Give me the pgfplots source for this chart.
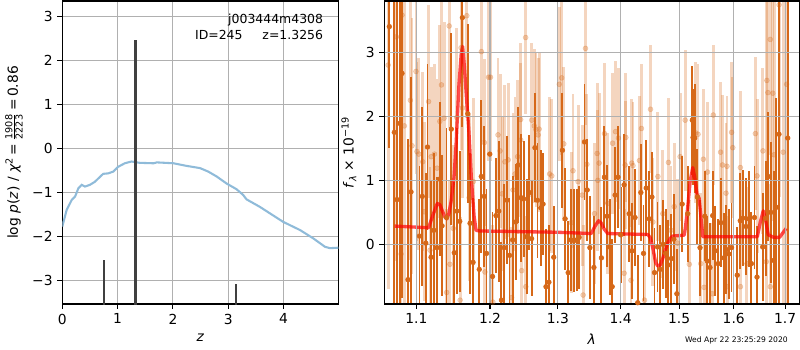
\documentclass[border=0pt]{standalone}
\usepackage{fontspec}
\setmainfont{DejaVu Sans}
\usepackage{amsmath}
\usepackage{pgfplots}
\pgfplotsset{compat=1.18}
\usepackage{pgfplotstable}

\definecolor{mplgrid}{RGB}{176,176,176}
\definecolor{pzblue}{RGB}{143,187,217}
\definecolor{ebar}{RGB}{214,104,24}
\definecolor{barblack}{RGB}{64,64,64}

\pgfplotstableread{
x y e
1.0655 3.40 1.90
1.0718 1.75 3.50
1.0752 0.70 3.50
1.0786 1.89 3.50
1.0816 2.67 3.50
1.0892 -0.55 2.20
1.0931 0.82 1.80
1.1041 0.13 1.10
1.1077 0.75 1.40
1.1124 0.02 1.10
1.1146 1.52 1.30
1.1193 -0.20 1.20
1.1229 0.22 1.20
1.1270 -0.05 1.10
1.1307 1.02 1.20
1.1339 0.29 1.10
1.1399 0.42 1.40
1.1463 1.80 1.50
1.1504 -0.13 1.10
1.1537 0.52 1.30
1.1579 0.36 1.10
1.1614 3.54 1.70
1.1689 2.04 1.40
1.1720 0.33 1.10
1.1762 -0.28 1.00
1.1848 -0.39 1.10
1.1876 1.06 1.20
1.1917 0.75 1.10
1.1950 -0.14 1.00
1.1996 1.41 1.10
1.2035 -0.50 1.00
1.2084 0.45 0.90
1.2124 0.52 1.10
1.2162 -0.87 0.90
1.2201 -0.05 1.00
1.2241 0.69 1.00
1.2279 -0.17 0.90
1.2324 0.07 1.00
1.2368 0.35 0.90
1.2407 1.24 0.90
1.2447 0.73 1.00
1.2485 0.71 0.90
1.2529 0.12 0.90
1.2569 0.81 0.90
1.2603 0.09 0.90
1.2653 1.51 0.85
1.2691 0.69 0.90
1.2741 0.57 0.90
1.2775 0.63 0.80
1.2819 -0.66 0.90
1.2863 -0.59 0.90
1.2937 -0.20 0.80
1.3070 1.47 0.90
1.3112 0.40 0.80
1.3159 -0.44 0.80
1.3198 0.07 0.80
1.3250 0.06 0.80
1.3293 0.07 0.80
1.3330 0.11 0.80
1.3415 1.60 0.90
1.3458 0.85 0.80
1.3501 -0.05 0.80
1.3565 -0.36 0.80
1.3686 -0.21 0.80
1.3734 1.05 0.80
1.3777 0.44 0.80
1.3820 -0.04 0.75
1.3861 -0.66 0.75
1.3909 0.77 0.75
1.3957 1.05 0.80
1.4000 0.15 0.75
1.4057 0.93 0.80
1.4142 0.48 0.75
1.4189 -0.10 0.75
1.4240 0.42 0.75
1.4286 -0.91 0.75
1.4338 0.81 0.75
1.4383 -0.14 0.75
1.4429 0.88 0.75
1.4480 0.40 0.75
1.4527 0.74 0.70
1.4571 -0.44 0.70
1.4623 -0.04 0.70
1.4669 -0.39 0.70
1.4720 0.00 0.70
1.4767 -0.14 0.70
1.4811 -0.32 0.70
1.4863 -0.22 0.70
1.4909 0.08 0.70
1.4961 -0.77 0.70
1.5055 0.63 0.75
1.5153 0.48 0.75
1.5236 1.94 0.85
1.5249 1.67 0.75
1.5280 1.66 0.85
1.5327 0.74 0.75
1.5376 -0.05 0.75
1.5462 0.44 0.70
1.5509 -0.26 0.70
1.5558 -0.36 0.70
1.5607 0.45 0.70
1.5655 -0.10 0.70
1.5709 -0.30 0.70
1.5758 0.34 0.70
1.5813 -0.21 0.70
1.5862 -0.08 0.70
1.5909 -0.15 0.70
1.5958 -0.05 0.70
1.6066 -0.48 0.75
1.6124 0.37 0.75
1.6174 0.41 0.75
1.6232 0.28 0.75
1.6284 0.40 0.75
1.6337 -0.30 0.80
1.6395 0.42 0.80
1.6445 -0.51 0.80
1.6555 -0.04 0.85
1.6613 0.41 0.90
1.6665 1.06 1.00
1.6716 0.50 1.10
1.6774 -0.25 1.40
1.6826 0.58 1.70
1.6878 1.72 3.00
1.7052 1.66 3.50
}\darkdata

\pgfplotstableread{
x y e
1.0640 2.80 3.50
1.0744 3.24 3.50
1.0803 -0.15 3.00
1.0816 3.58 3.50
1.0846 1.85 3.00
1.0923 2.25 2.50
1.0944 1.54 2.00
1.0995 2.70 1.60
1.1008 1.45 1.40
1.1032 1.41 1.50
1.1083 1.29 1.40
1.1101 0.51 1.40
1.1160 2.23 1.50
1.1179 -0.09 1.30
1.1195 1.37 1.40
1.1238 1.41 1.40
1.1272 1.19 1.40
1.1309 1.92 1.50
1.1331 2.49 1.40
1.1366 1.97 1.50
1.1401 -0.75 1.30
1.1435 3.41 1.60
1.1445 -0.31 1.30
1.1490 0.25 1.30
1.1539 1.98 1.40
1.1583 -0.87 1.30
1.1596 3.07 1.60
1.1616 2.13 1.40
1.1675 3.57 1.60
1.1707 0.73 1.30
1.1764 0.98 1.30
1.1878 3.01 1.40
1.1919 1.59 1.30
1.1927 -0.43 1.20
1.1978 2.61 1.30
1.2006 2.61 1.30
1.2040 -0.90 1.20
1.2113 1.71 1.20
1.2143 1.46 1.20
1.2172 0.79 1.20
1.2212 1.29 1.20
1.2260 1.32 1.20
1.2309 -0.83 1.10
1.2329 0.85 1.20
1.2359 1.10 1.20
1.2397 1.37 1.20
1.2441 1.95 1.20
1.2443 1.63 1.20
1.2456 -0.41 1.10
1.2515 3.23 1.20
1.2517 -0.66 1.10
1.2605 1.94 1.20
1.2643 1.85 1.20
1.2668 1.79 1.20
1.2701 1.71 1.20
1.2716 1.80 1.20
1.2874 1.10 1.20
1.2907 1.07 1.20
1.3022 2.50 1.20
1.3059 2.60 1.20
1.3091 1.57 1.20
1.3207 0.34 1.10
1.3234 1.15 1.20
1.3314 0.98 1.20
1.3378 0.77 1.10
1.3394 -0.79 1.10
1.3431 3.06 1.20
1.3453 1.25 1.10
1.3574 0.48 1.10
1.3617 1.42 1.10
1.3628 1.00 1.10
1.3649 1.27 1.10
1.3736 1.73 1.10
1.3788 0.64 1.10
1.3868 1.58 1.10
1.3915 1.76 1.10
1.3963 1.66 1.10
1.4059 -0.45 1.00
1.4074 1.24 1.00
1.4086 1.67 1.00
1.4172 -0.56 1.00
1.4184 1.27 1.00
1.4206 1.23 1.00
1.4314 1.31 1.00
1.4348 1.81 1.00
1.4400 -0.87 1.00
1.4503 2.11 1.00
1.4544 0.35 1.00
1.4630 1.06 1.00
1.4715 0.48 1.00
1.4813 1.28 1.00
1.4858 0.22 1.00
1.4914 0.59 1.00
1.4973 0.02 1.00
1.5018 1.37 1.00
1.5109 1.94 1.10
1.5182 -0.31 1.00
1.5298 1.74 1.10
1.5340 1.72 1.10
1.5389 -0.30 1.10
1.5436 1.33 1.10
1.5449 -0.67 1.10
1.5511 1.13 1.10
1.5600 -0.77 1.10
1.5618 2.02 1.10
1.5753 1.44 1.10
1.5789 1.24 1.10
1.5855 0.80 1.10
1.5873 1.22 1.10
1.5875 -0.66 1.10
1.5960 1.75 1.10
1.5982 1.51 1.10
1.6126 1.20 1.20
1.6128 -0.66 1.20
1.6251 -0.30 1.20
1.6414 1.73 1.20
1.6447 1.07 1.20
1.6561 1.46 1.30
1.6627 -0.27 1.40
1.6638 2.56 1.50
1.6658 2.37 1.60
1.6704 3.20 1.80
1.6706 -0.66 1.60
1.6754 2.36 2.00
1.6781 1.40 2.50
1.6880 3.74 3.00
1.6961 1.44 3.00
1.7030 2.50 3.50
}\lightdata

\pgfplotsset{mpl/.style={
  scale only axis, height=3.03in, anchor=south west,
  grid=major, grid style={mplgrid, line width=0.8pt},
  axis line style={line width=0.8pt},
  tick align=outside, tick pos=left, major tick length=3.5pt,
  tick style={black, line width=0.8pt},
  tick label style={font=\fontsize{10}{12}\selectfont},
  label style={font=\fontsize{10}{12}\selectfont},
  /pgf/number format/assume math mode=true}}

\begin{document}
\begin{tikzpicture}
\useasboundingbox (0,0) rectangle (8in,3.5in);

\begin{axis}[mpl, at={(0.623in,0.46in)}, width=2.76in,
  xmin=0, xmax=4.99, ymin=-3.54, ymax=3.35,
  xtick={0,1,2,3,4}, ytick={-3,-2,-1,0,1,2,3},
  yticklabels={−3,−2,−1,0,1,2,3},
  xlabel={\textit{z}},
  ylabel={log \textit{p}(\textit{z}) / \textit{χ}\textsuperscript{2}\,=\,$\frac{\text{1908}}{\text{2223}}$\,=\,0.86}]
\addplot[pzblue, line width=1.5pt] coordinates {
(0,-1.78) (0.079,-1.40) (0.17,-1.175) (0.23,-1.10) (0.29,-0.91) (0.35,-0.83)
(0.41,-0.87) (0.50,-0.83) (0.59,-0.76) (0.68,-0.65) (0.74,-0.58) (0.83,-0.57)
(0.92,-0.53) (1.01,-0.42) (1.13,-0.34) (1.25,-0.30) (1.40,-0.33) (1.65,-0.34)
(1.71,-0.32) (2.01,-0.34) (2.25,-0.40) (2.49,-0.45) (2.64,-0.53) (2.79,-0.64)
(2.97,-0.80) (3.15,-0.93) (3.27,-1.06) (3.33,-1.16) (3.57,-1.33) (3.99,-1.67)
(4.30,-1.86) (4.54,-2.05) (4.75,-2.24) (4.84,-2.27) (4.99,-2.26)};
\addplot[barblack, line width=1.4pt] coordinates {(0.76,-3.6) (0.76,-2.55)};
\addplot[barblack, line width=2.2pt] coordinates {(1.3256,-3.6) (1.3256,2.46)};
\addplot[barblack, line width=1.4pt] coordinates {(3.14,-3.6) (3.14,-3.09)};
\node[anchor=east, font=\fontsize{9}{10}\selectfont, inner sep=0pt] at (rel axis cs:0.9457,0.938) {j003444m4308};
\node[anchor=east, font=\fontsize{9}{10}\selectfont, inner sep=0pt] at (rel axis cs:0.9457,0.889) {ID=245\hspace{1.6em}z=1.3256};
\end{axis}

\begin{axis}[mpl, at={(3.843in,0.46in)}, width=4.15in,
  xmode=log, xmin=1.0592, xmax=1.7287, ymin=-0.93, ymax=3.80,
  xtick={1.1,1.2,1.3,1.4,1.5,1.6,1.7},
  xticklabels={1.1,1.2,1.3,1.4,1.5,1.6,1.7},
  minor xtick={}, ytick={0,1,2,3}, axis on top,
  xlabel={\textit{λ}},
  ylabel={\textit{f}\textsubscript{\textit{λ}} × 10\textsuperscript{−19}}]
\addplot[only marks, mark=*, mark size=1.8pt, ebar, opacity=0.28,
  mark options={draw=none, fill=ebar},
  error bars/.cd, y dir=both, y explicit, error mark=none,
  error bar style={line width=2.1pt, ebar, opacity=0.28}]
  table[x=x, y=y, y error=e] {\lightdata};
\addplot[only marks, mark=*, mark size=1.7pt, ebar,
  mark options={draw=none, fill=ebar},
  error bars/.cd, y dir=both, y explicit, error mark=none,
  error bar style={line width=1.35pt, ebar}]
  table[x=x, y=y, y error=e] {\darkdata};
\addplot[red, opacity=0.7, line width=2.4pt, line join=round] coordinates {
(1.0722,0.286) (1.1160,0.26) (1.1215,0.45) (1.1275,0.64) (1.1310,0.62)
(1.1344,0.52) (1.1380,0.42) (1.1404,0.40) (1.1430,0.48) (1.1459,0.66)
(1.1500,1.05) (1.1528,1.55) (1.1565,2.45) (1.1600,3.0) (1.1618,3.09)
(1.1640,2.8) (1.1670,2.3) (1.1702,1.80) (1.1740,1.0) (1.1775,0.45)
(1.1803,0.22) (1.1850,0.21) (1.2991,0.19) (1.3522,0.17) (1.3580,0.28)
(1.3640,0.37) (1.3680,0.34) (1.3730,0.24) (1.3788,0.17) (1.4458,0.155)
(1.4500,0.10) (1.4543,-0.06) (1.4590,-0.28) (1.4629,-0.34) (1.4670,-0.32)
(1.4715,-0.22) (1.4760,-0.08) (1.4800,0.02) (1.4850,0.10) (1.4886,0.13)
(1.5091,0.145) (1.5110,0.25) (1.5150,0.55) (1.5200,1.0) (1.5244,1.20)
(1.5280,1.05) (1.5322,0.78) (1.5360,0.72) (1.5400,0.35) (1.5426,0.12)
(1.6452,0.12) (1.6510,0.35) (1.6568,0.525) (1.6620,0.35) (1.6665,0.15)
(1.6774,0.11) (1.6890,0.11) (1.7020,0.25)};
\addplot[black, line width=1.3pt, dash pattern=on 1.3pt off 2pt] coordinates {(1.0592,0) (1.7287,0)};
\end{axis}

\node[anchor=base east, font=\fontsize{5.5}{6}\selectfont, inner sep=0pt] at (7.88in,0.08in) {Wed Apr 22 23:25:29 2020};
\end{tikzpicture}
\end{document}
